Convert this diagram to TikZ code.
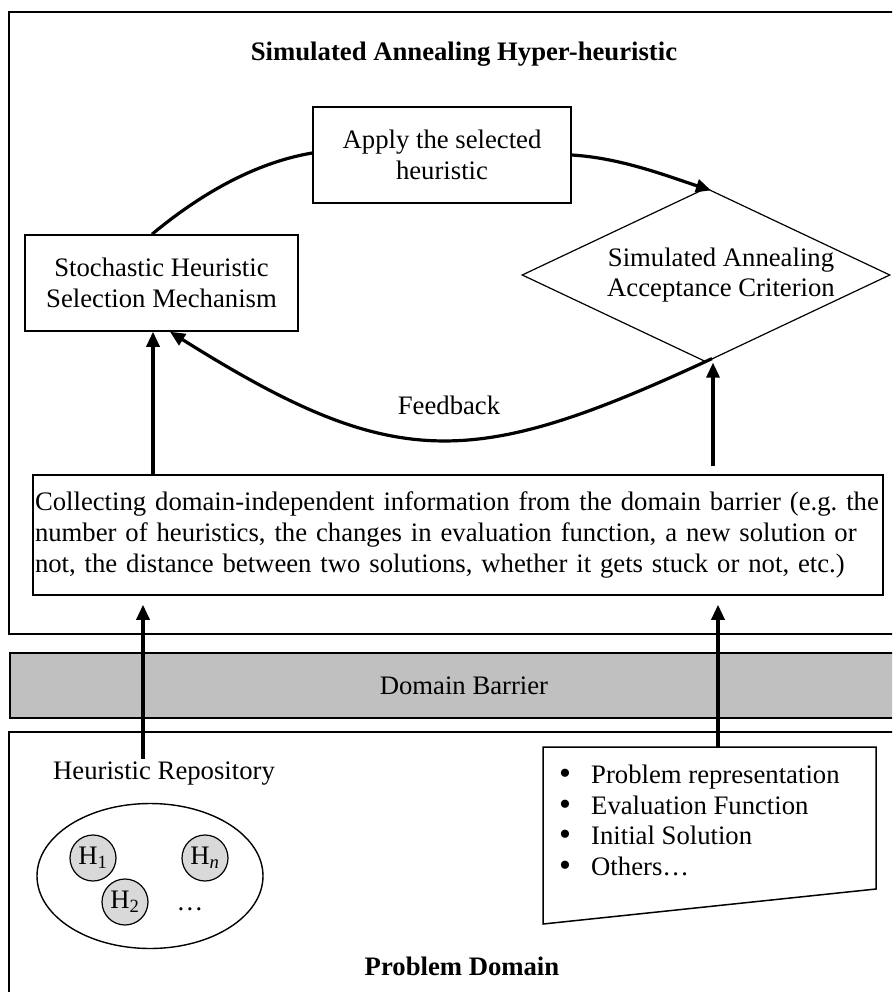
\documentclass[tikz,border=0pt]{standalone}
\usepackage{fontspec}
\setmainfont{Liberation Serif}
\usetikzlibrary{arrows.meta,shapes.geometric}
\definecolor{barriergray}{HTML}{C0C0C0}
\definecolor{circgray}{HTML}{D9D9D9}
\newcommand{\dgfont}{\fontsize{26.7}{30.7}\selectfont\frenchspacing}
\newcommand{\bigbul}{\makebox[32pt][l]{\smash{\raisebox{-1pt}{\fontsize{34}{34}\selectfont\textbullet}}}}

\begin{document}
\begin{tikzpicture}[x=1pt,y=-1pt,
  font=\dgfont,
  frame/.style={draw, line width=1.9pt},
  procbox/.style={draw, line width=1.5pt, align=center, minimum height=96pt, inner sep=0pt},
  flow/.style={line width=3.2pt, -{Triangle[length=15pt,width=13pt]}},
  thickline/.style={line width=3.2pt},
  hcirc/.style={circle, draw, line width=1.2pt, fill=circgray, minimum size=46pt, inner sep=0pt},
  plain/.style={inner sep=0pt},
]
\useasboundingbox (0,0) rectangle (892,992);
\clip (0,0) rectangle (892,992);

% frames
\draw[frame] (9,12) rectangle (917,634);
\node[frame, fill=barriergray, anchor=north west, minimum width=908pt, minimum height=65pt, inner sep=0pt] (barrier) at (9,652) {Domain Barrier};
\draw[frame] (9,732) rectangle (917,1010);

% helper x positions
\coordinate (xUL) at (153,0);
\coordinate (xUR) at (713,0);
\coordinate (xLL) at (143,0);
\coordinate (xLR) at (718,0);

% top part
\node[font=\dgfont\bfseries] (title) at (464,54) {Simulated Annealing Hyper-heuristic};
\node[procbox, minimum width=258pt] (apply) at (442,155) {Apply the selected\\heuristic};
\node[procbox, minimum width=273pt] (select) at (161.5,283) {Stochastic Heuristic\\Selection Mechanism};
\node[diamond, draw, line width=1.2pt, minimum width=368pt, minimum height=174pt, inner sep=0pt] (accept) at (706,275) {};
\node[align=center] (accepttext) at (721,275) {Simulated Annealing\\Acceptance Criterion};
\node (feedback) at (449,405) {Feedback};
\node[draw, line width=1.5pt, text width=846pt, inner xsep=2pt, inner ysep=0pt, minimum height=120pt, align=left] (collect) at (458,535)
  {Collecting domain-independent information from the domain barrier (e.g. the\\
   number of heuristics, the changes in evaluation function, a new solution or\\
   not, the distance between two solutions, whether it gets stuck or not, etc.)};

% loop connectors
\draw[thickline] ([xshift=-9.5pt]select.north) .. controls (198,196) and (253,163) .. ([yshift=2pt]apply.west);
\draw[flow] (apply.east) .. controls (621,158) and (667,176) .. ([xshift=5pt,yshift=-3pt]accept.north);
\draw[flow] ([xshift=6pt,yshift=4pt]accept.south) .. controls (472,470) and (395,473) .. ([xshift=8.5pt]select.south);

% vertical arrows in the top part
\draw[flow] (collect.north -| xUL) -- (select.south -| xUL);
\draw[flow, shorten <=8pt] (collect.north -| xUR) -- (accept.south -| xUR);

% bottom part
\node (repotext) at (164,774) {Heuristic Repository};
\node[ellipse, draw, line width=1.4pt, minimum width=226pt, minimum height=145pt, inner sep=0pt] (repoell) at (150,876) {};
\node[hcirc] (h1) at (93,858) {H\textsubscript{1}};
\node[hcirc] (hn) at (205,858) {H\textsubscript{\textit{n}}};
\node[hcirc] (h2) at (125,902) {H\textsubscript{2}};
\node (hdots) at (190,909) {…};

\coordinate (docTL) at (543,747);
\coordinate (docTR) at (876,747);
\coordinate (docBR) at (876,889);
\coordinate (docBL) at (543,924);
\draw[line width=1.5pt] (docTL) -- (docTR) -- (docBR) -- (docBL) -- cycle;
\node[plain, anchor=north west, align=left] (doclist) at (559,764.8)
  {\bigbul Problem representation\\
   \bigbul Evaluation Function\\
   \bigbul Initial Solution\\
   \bigbul Others…};

\node[font=\dgfont\bfseries] (probdomain) at (462,966) {Problem Domain};

% arrows through the barrier
\draw[flow, shorten >=9pt] (repotext.north -| xLL) -- (collect.south -| xLL);
\draw[flow, shorten >=9pt] (docTL -| xLR) -- (collect.south -| xLR);
\end{tikzpicture}
\end{document}
